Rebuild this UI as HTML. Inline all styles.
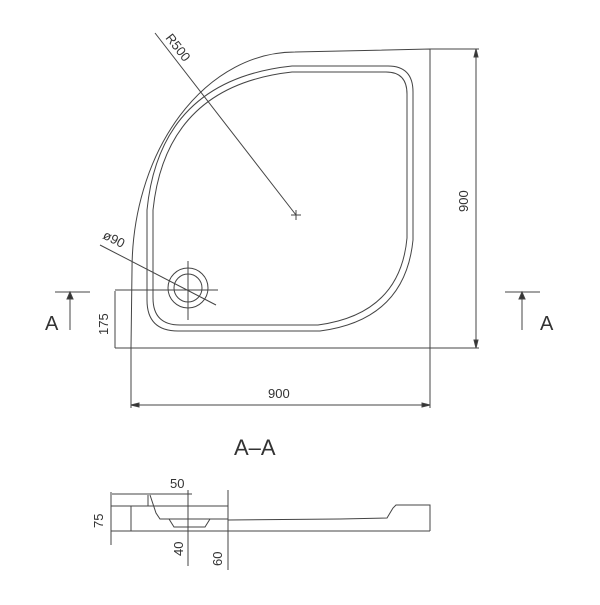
<!DOCTYPE html><html><head><style>body{margin:0;background:#fff}svg text{font-family:"Liberation Sans",sans-serif;fill:#333}</style></head><body>
<svg width="600" height="600" viewBox="0 0 600 600" xmlns="http://www.w3.org/2000/svg" fill="none" stroke="#444" stroke-width="1">
<path d="M430 49 L295 52 A163 218 0 0 0 132 270 L131 348 L430 348 Z"/>
<path d="M292 66 L388 66 Q413 66 413 92 L413 240 Q405 320 320 331 L178 331 Q147 331 147 300 L147 210 Q160 80 292 66 Z"/>
<path d="M292 72 L386 72 Q407 72 407 94 L407 238 Q400 314 318 325 L180 325 Q153 325 153 298 L153 210 Q166 86 292 72 Z"/>
<circle cx="188" cy="288" r="20"/><circle cx="188" cy="288" r="14"/>
<line x1="188" y1="261" x2="188" y2="320"/><line x1="115" y1="290" x2="218" y2="290"/>
<line x1="100" y1="245" x2="216" y2="305"/>
<line x1="155" y1="33" x2="296" y2="215"/>
<line x1="291" y1="215" x2="301" y2="215"/><line x1="296" y1="210" x2="296" y2="220"/>
<text font-size="13" transform="translate(165,38) rotate(52)" stroke="none">R500</text>
<text font-size="13" transform="translate(102,238) rotate(27)" stroke="none">ø90</text>
<line x1="115" y1="291" x2="115" y2="348"/><line x1="115" y1="348" x2="131" y2="348"/>
<text font-size="13" transform="translate(108,335) rotate(-90)" stroke="none">175</text>
<line x1="131" y1="348" x2="131" y2="408"/><line x1="430" y1="348" x2="430" y2="408"/>
<line x1="131" y1="405" x2="430" y2="405"/>
<path d="M131 405 l8 -2 v4 z M430 405 l-8 -2 v4 z" fill="#333"/>
<text x="268" y="398" font-size="13" stroke="none">900</text>
<line x1="430" y1="49" x2="479" y2="49"/><line x1="430" y1="348" x2="479" y2="348"/>
<line x1="476" y1="49" x2="476" y2="348"/>
<path d="M476 49 l-2 8 h4 z M476 348 l-2 -8 h4 z" fill="#333"/>
<text font-size="13" transform="translate(468,212) rotate(-90)" stroke="none">900</text>
<line x1="55" y1="292" x2="90" y2="292"/><line x1="70" y1="292" x2="70" y2="330"/><path d="M70 292 l-3 7 h6z" fill="#333"/>
<text x="45" y="330" font-size="20" stroke="none">A</text>
<line x1="505" y1="292" x2="540" y2="292"/><line x1="522" y1="292" x2="522" y2="330"/><path d="M522 292 l-3 7 h6z" fill="#333"/>
<text x="540" y="330" font-size="20" stroke="none">A</text>
<text x="234" y="455" font-size="22" stroke="none">A–A</text>
<path d="M111 506 H228 M111 506 V531 H430 M131 506 V531 M148 495 V506 M150 495 L156 513 L160 519 L228 519 M169 519 L174 527 L205 527 L210 519 M228 520 L340 519 L387 518 L393 508 L396 505 L430 505 L430 531"/>
<line x1="112" y1="494" x2="192" y2="494"/>
<line x1="111" y1="492" x2="111" y2="545"/>
<line x1="188" y1="490" x2="188" y2="566"/>
<line x1="228" y1="490" x2="228" y2="570"/>
<text x="170" y="488" font-size="13" stroke="none">50</text>
<text font-size="13" transform="translate(103,528) rotate(-90)" stroke="none">75</text>
<text font-size="13" transform="translate(183,556) rotate(-90)" stroke="none">40</text>
<text font-size="13" transform="translate(222,566) rotate(-90)" stroke="none">60</text>
</svg></body></html>
